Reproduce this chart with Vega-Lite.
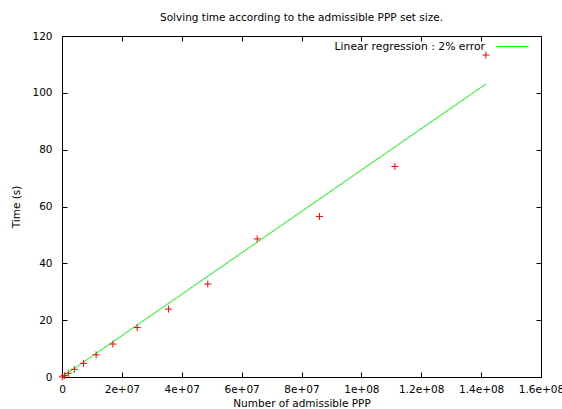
{
  "$schema": "https://vega.github.io/schema/vega-lite/v6.json",
  "width": 479,
  "height": 341,
  "autosize": {"type": "none"},
  "padding": {"left": 62, "top": 36, "right": 21, "bottom": 32},
  "background": "#ffffff",
  "title": {
    "text": "Solving time according to the admissible PPP set size.",
    "font": "DejaVu Sans",
    "fontSize": 10.5,
    "fontWeight": "normal",
    "color": "#000000",
    "anchor": "middle",
    "offset": 7
  },
  "config": {
    "view": {"stroke": "#000000", "strokeWidth": 1},
    "font": "DejaVu Sans",
    "axis": {
      "grid": false,
      "domain": false,
      "tickSize": -5,
      "tickColor": "#000000",
      "tickWidth": 1,
      "labelFont": "DejaVu Sans",
      "labelFontSize": 10.5,
      "labelColor": "#000000",
      "titleFont": "DejaVu Sans",
      "titleFontSize": 10.5,
      "titleFontWeight": "normal",
      "titleColor": "#000000"
    }
  },
  "datasets": {
    "measures": [
      {"ppp": 100000, "time": 0.05},
      {"ppp": 800000, "time": 0.5},
      {"ppp": 2100000, "time": 1.3},
      {"ppp": 4100000, "time": 2.7},
      {"ppp": 7200000, "time": 4.8},
      {"ppp": 11400000, "time": 7.8},
      {"ppp": 17000000, "time": 11.6},
      {"ppp": 25100000, "time": 17.4},
      {"ppp": 35600000, "time": 23.9},
      {"ppp": 48700000, "time": 32.7},
      {"ppp": 65200000, "time": 48.6},
      {"ppp": 86000000, "time": 56.5},
      {"ppp": 111200000, "time": 74.1},
      {"ppp": 141600000, "time": 113.3}
    ],
    "regression": [
      {"ppp": 0, "time": 0, "series": "Linear regression : 2% error"},
      {"ppp": 141600000, "time": 103.1, "series": "Linear regression : 2% error"}
    ]
  },
  "layer": [
    {
      "data": {"name": "regression"},
      "mark": {"type": "line", "strokeWidth": 1},
      "encoding": {
        "x": {
          "field": "ppp",
          "type": "quantitative",
          "scale": {"domain": [0, 160000000], "nice": false, "zero": false},
          "axis": {
            "orient": "bottom",
            "values": [0, 20000000, 40000000, 60000000, 80000000, 100000000, 120000000, 140000000, 160000000],
            "labelExpr": "datum.value == 0 ? '0' : replace(format(datum.value, '~e'), 'e+', 'e+0')",
            "labelPadding": 12,
            "labelFlush": false,
            "labelOverlap": false,
            "title": "Number of admissible PPP",
            "titlePadding": 4
          }
        },
        "y": {
          "field": "time",
          "type": "quantitative",
          "scale": {"domain": [0, 120], "nice": false, "zero": false},
          "axis": {
            "orient": "left",
            "values": [0, 20, 40, 60, 80, 100, 120],
            "labelPadding": 15,
            "labelFlush": false,
            "labelOverlap": false,
            "title": "Time (s)",
            "titlePadding": 10
          }
        },
        "color": {
          "field": "series",
          "type": "nominal",
          "scale": {"range": ["#00ff00"]},
          "legend": {
            "orient": "none",
            "legendX": 434,
            "legendY": -6,
            "title": null,
            "padding": 0,
            "symbolType": "stroke",
            "symbolSize": 1024,
            "symbolStrokeWidth": 1,
            "labelAlign": "right",
            "labelOffset": -44,
            "labelFont": "DejaVu Sans",
            "labelFontSize": 10.8,
            "labelColor": "#000000",
            "labelLimit": 0
          }
        }
      }
    },
    {
      "data": {"name": "measures"},
      "mark": {
        "type": "point",
        "shape": "M-1,0H1M0,-1V1",
        "size": 49,
        "filled": false,
        "stroke": "#ff0000",
        "strokeWidth": 1,
        "opacity": 1
      },
      "encoding": {
        "x": {
          "field": "ppp",
          "type": "quantitative",
          "axis": {
            "orient": "top",
            "values": [0, 20000000, 40000000, 60000000, 80000000, 100000000, 120000000, 140000000, 160000000],
            "labels": false,
            "title": null
          }
        },
        "y": {
          "field": "time",
          "type": "quantitative",
          "axis": {
            "orient": "right",
            "values": [0, 20, 40, 60, 80, 100, 120],
            "labels": false,
            "title": null
          }
        }
      }
    }
  ]
}
